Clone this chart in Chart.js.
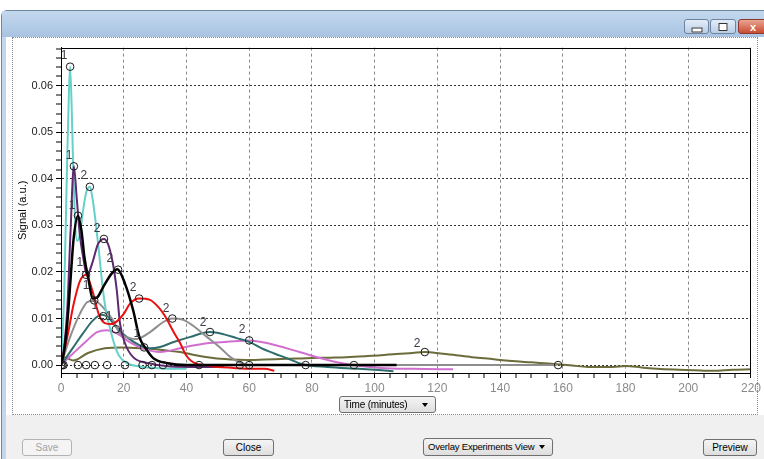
<!DOCTYPE html>
<html>
<head>
<meta charset="utf-8">
<script src="https://cdn.jsdelivr.net/npm/chart.js@4.4.1/dist/chart.umd.min.js"></script>
<style>
body { margin:0; width:764px; height:459px; background:#fff; position:relative; overflow:hidden; font-family:"Liberation Sans", Arial, sans-serif; }
.win { position:absolute; left:1px; top:10px; width:790px; height:470px; background:#c2d6ec; border:1px solid #6f86a3; border-radius:6px 0 0 0; box-sizing:border-box; }
.title { position:absolute; left:0; top:0; right:0; height:26px; background:linear-gradient(#c4d8ee, #a8c3e1); }
.client { position:absolute; left:4px; top:26px; width:780px; height:440px; background:#f0f0f0; }
.panel { position:absolute; left:0; top:0; width:760px; height:378px; background:#fff; }
.dots { position:absolute; left:6px; top:0; width:746px; height:378px; border:1px dotted #8c8c8c; box-sizing:border-box; }
.tb { position:absolute; top:8px; height:15px; border:1px solid #6d83a0; border-radius:3px; box-sizing:border-box; background:linear-gradient(#e4edf8, #b9cee6); }
.tb.close { background:linear-gradient(#e9a593, #c94b33); border-color:#8c3a2c; }
.tb span { position:absolute; left:50%; top:50%; transform:translate(-50%,-50%); }
.btn { position:absolute; top:439px; height:17px; border:1px solid #707070; border-radius:3px; box-sizing:border-box; background:linear-gradient(#f4f4f4, #dedede); font-size:10px; color:#000; text-align:center; line-height:15px; white-space:nowrap; }
.btn.dis { color:#a3a3a3; border-color:#b3b3b3; background:#f4f4f4; }
.combo { text-align:left; padding-left:4px; letter-spacing:-0.2px; }
.combo b { position:absolute; right:7px; top:6px; width:0; height:0; border-left:3px solid transparent; border-right:3px solid transparent; border-top:4px solid #000; }
canvas { position:absolute; left:12px; top:38px; }
</style>
</head>
<body>
<div class="win">
  <div class="title"></div>
  <div class="tb" style="left:682px;width:25px"><span style="width:9px;height:3px;border:1px solid #333;background:#fff;margin-top:3px"></span></div>
  <div class="tb" style="left:708px;width:26px"><span style="width:7px;height:6px;border:1px solid #333;background:#fff"></span></div>
  <div class="tb close" style="left:736px;width:30px"><span style="color:#fff;font-weight:bold;font-size:11px">x</span></div>
  <div class="client">
    <div class="panel"><div class="dots"></div></div>
  </div>
</div>
<canvas id="c" width="752" height="374"></canvas>
<div class="btn combo" style="left:339px;top:396px;width:97px;height:17px">Time (minutes)<b></b></div>
<div class="btn dis" style="left:22px;width:50px">Save</div>
<div class="btn" style="left:223px;width:51px">Close</div>
<div class="btn combo" style="left:423px;top:438px;width:130px;height:18px;font-size:9.5px">Overlay Experiments View<b></b></div>
<div class="btn" style="left:703px;width:54px">Preview</div>
<script>
'use strict'

// axes
const xMajor = [0, 20, 40, 60, 80, 100, 120, 140, 160, 180, 200, 220];
const yMajor = [0, 0.01, 0.02, 0.03, 0.04, 0.05, 0.06];
const xMinorStep = 5;
const yMinorStep = 0.002;

// series (time in minutes, signal)
const turqT = [0, 1, 2, 2.5, 2.9, 3.5, 4, 5.1, 6, 7, 8, 9.2, 10, 11, 12, 13.4, 14.5, 15.6, 17, 18.5, 21, 25, 30, 35, 40];
const turqV = [0, 0.015, 0.045, 0.058, 0.0641, 0.053, 0.04, 0.0267, 0.028, 0.033, 0.037, 0.0383, 0.036, 0.031, 0.025, 0.016, 0.011, 0.008, 0.0045, 0.002, 0.0004, -0.0003, -0.0006, -0.0008, -0.0008];

const purpT = [0, 1, 2, 3, 4.1, 5, 6, 7.1, 8.3, 9, 10.2, 11.8, 13.7, 15, 16.2, 17, 17.8, 18.8, 20.4, 23, 28, 35, 45, 52];
const purpV = [0, 0.004, 0.012, 0.028, 0.0427, 0.036, 0.028, 0.023, 0.0192, 0.02, 0.0224, 0.026, 0.0271, 0.026, 0.023, 0.02, 0.016, 0.009, 0.0047, 0.0017, 0.0004, -0.0003, -0.0004, -0.0004];

const blackT = [0, 1, 2, 3, 4, 5.4, 6.5, 7.5, 8.6, 10.2, 11.5, 13.4, 16.2, 18, 20.4, 23, 25, 26.8, 29.4, 34, 40, 60, 80, 107];
const blackV = [0, 0.003, 0.009, 0.018, 0.027, 0.0321, 0.029, 0.023, 0.019, 0.0143, 0.0145, 0.0167, 0.0197, 0.0206, 0.0175, 0.0118, 0.006, 0.0038, 0.0015, 0.0004, 0, 0, 0, 0];

const redT = [0, 2, 4, 6, 8, 10, 12, 14, 16, 18, 20, 22, 24.9, 28.4, 31, 33, 36, 38, 40, 43, 46, 50, 55, 60, 65, 68];
const redV = [0, 0.006, 0.013, 0.018, 0.0194, 0.016, 0.011, 0.009, 0.0088, 0.0095, 0.011, 0.0132, 0.0143, 0.014, 0.0125, 0.0107, 0.007, 0.0047, 0.002, 0.0003, 0, -0.0004, -0.0006, -0.0008, -0.0008, -0.0012];

const grayT = [0, 2.9, 6, 8.3, 10.6, 13.4, 16.6, 18.8, 22, 24, 28.4, 32.5, 35.5, 39, 42, 46.6, 50.7, 54, 57, 60, 80, 100, 120, 140, 158];
const grayV = [0, 0.006, 0.011, 0.0135, 0.0139, 0.0124, 0.0096, 0.0068, 0.0058, 0.0056, 0.0071, 0.0092, 0.01, 0.0097, 0.0085, 0.006, 0.0038, 0.0017, 0.0006, 0, 0, 0, 0, 0, 0];

const tealT = [0, 3.9, 7, 10.2, 13, 15, 17.8, 21, 25, 28.4, 31.6, 35.7, 41, 47.5, 52, 56, 60, 64, 68, 72, 77, 85, 95, 106];
const tealV = [0, 0.0038, 0.0068, 0.0096, 0.0108, 0.0103, 0.008, 0.006, 0.0043, 0.0036, 0.0039, 0.0049, 0.006, 0.0071, 0.0066, 0.0058, 0.005, 0.0036, 0.0025, 0.0015, 0.0002, -0.0004, -0.0008, -0.0013];

const pinkT = [0, 4, 8.3, 11.5, 14.6, 17.8, 22, 26, 31.6, 39, 46.6, 53, 60, 66, 76, 85, 93, 102, 112, 125];
const pinkV = [0, 0.0026, 0.0053, 0.0071, 0.0075, 0.0068, 0.0049, 0.0036, 0.0028, 0.0038, 0.0047, 0.005, 0.0053, 0.0047, 0.0028, 0.0011, 0, -0.0006, -0.0008, -0.0009];

const oliveT = [0, 1, 4, 8.6, 14, 19.5, 26, 33, 38, 43, 48.5, 54, 59, 65, 70, 75, 80, 86, 91, 97, 102, 107, 112, 116, 121, 125, 131, 136, 140, 145, 150, 154, 158, 163, 168, 172, 176, 180, 185, 190, 197, 202, 208, 214, 220];
const oliveV = [0, 0.0017, 0.001, 0.0026, 0.0036, 0.0038, 0.0036, 0.0032, 0.0028, 0.0021, 0.0015, 0.0012, 0.0011, 0.0012, 0.0013, 0.0014, 0.0015, 0.0016, 0.0017, 0.0019, 0.0021, 0.0024, 0.0026, 0.0028, 0.0025, 0.0022, 0.0017, 0.0014, 0.0011, 0.0008, 0.0006, 0.0004, 0.0002, -0.0001, -0.0004, -0.0004, -0.0004, -0.0002, -0.0005, -0.0008, -0.001, -0.0011, -0.0012, -0.001, -0.0009];

// peak / boundary markers
const markT = [2.9, 9.2, 4.1, 13.7, 5.4, 18.2, 8, 24.9, 10.6, 35.5, 13.5, 47.5, 17.5, 60, 26.5, 116,
  0, 0.4, 0.8, 5.4, 8, 10.8, 14.7, 20.4, 26, 29, 32.5, 44, 57, 60, 78, 93.4, 158.5];
const markV = [0.0641, 0.0383, 0.0427, 0.0271, 0.0321, 0.0205, 0.0194, 0.0143, 0.0139, 0.01, 0.0105, 0.0071, 0.0077, 0.0053, 0.0038, 0.0028,
  0, 0, 0, 0, 0, 0, 0, 0, 0, 0, 0, 0, 0, 0, 0, 0, 0];

// peak numbers
const labelT = [1, 2.6, 7.3, 3.5, 11.5, 6, 15.6, 8, 23, 10.8, 15.3, 33.5, 24.2, 45.3, 57.7, 113.5];
const labelV = [0.0664, 0.0449, 0.0406, 0.0342, 0.0293, 0.022, 0.0229, 0.0171, 0.0167, 0.0128, 0.0103, 0.0122, 0.0068, 0.0092, 0.0075, 0.0047];
const labelText = ['1', '1', '2', '1', '2', '1', '2', '1', '2', '1', '1', '2', '1', '2', '2', '2'];

function pts(t, v) {
	return t.map(function(x, i) { return { x: x, y: v[i] }; });
}

function series(t, v, color, width) {
	return {
		data: pts(t, v),
		borderColor: color,
		borderWidth: width || 2,
		pointRadius: 0,
		cubicInterpolationMode: 'monotone',
		fill: false
	};
}

const xAll = [];
for (let x = 0; x <= 220; x += xMinorStep) xAll.push(x);
const yAll = [];
for (let i = 0; i * yMinorStep <= 0.0681; i++) yAll.push(+(i * yMinorStep).toFixed(3));

function isYMajor(v) {
	return yMajor.some(function(m) { return Math.abs(m - v) < 1e-9; });
}

const family = '"Liberation Sans", Arial, sans-serif';

// frame round the plot
const frame = {
	id: 'frame',
	afterDraw: function(chart) {
		const a = chart.chartArea;
		const c = chart.ctx;
		c.save();
		c.strokeStyle = '#000';
		c.lineWidth = 1;
		c.strokeRect(Math.round(a.left) + 0.5, Math.round(a.top) + 0.5, Math.round(a.right - a.left) - 1, Math.round(a.bottom - a.top));
		c.restore();
	}
};

const peakLabels = {
	id: 'peakLabels',
	afterDatasetsDraw: function(chart) {
		const c = chart.ctx;
		const xs = chart.scales.x, ys = chart.scales.y;
		c.save();
		c.font = '12px ' + family;
		c.fillStyle = '#3a3a48';
		c.textAlign = 'center';
		c.textBaseline = 'middle';
		labelT.forEach(function(t, i) {
			c.fillText(labelText[i], xs.getPixelForValue(t), ys.getPixelForValue(labelV[i]));
		});
		c.restore();
	}
};

new Chart(document.getElementById('c'), {
	type: 'line',
	data: {
		datasets: [
			{
				data: pts(markT, markV),
				showLine: false,
				pointRadius: 3.8,
				pointBorderWidth: 1,
				pointBorderColor: '#1a1a1a',
				pointBackgroundColor: 'rgba(0,0,0,0)'
			},
			series(blackT, blackV, '#000000', 2.5),
			series(redT, redV, '#e81010'),
			series(purpT, purpV, '#5e2a6e'),
			series(turqT, turqV, '#66d1c9'),
			series(grayT, grayV, '#8e8e8e'),
			series(tealT, tealV, '#2f6c6c'),
			series(pinkT, pinkV, '#d06fd0'),
			series(oliveT, oliveV, '#6c6b3a')
		]
	},
	options: {
		responsive: false,
		animation: false,
		layout: { padding: { top: 8, right: 12, left: 0, bottom: 0 } },
		plugins: { legend: { display: false }, tooltip: { enabled: false } },
		scales: {
			x: {
				type: 'linear',
				min: 0,
				max: 220,
				afterBuildTicks: function(s) { s.ticks = xAll.map(function(v) { return { value: v }; }); },
				afterFit: function(s) { s.height = 39; },
				ticks: {
					autoSkip: false,
					maxRotation: 0,
					padding: 3,
					color: '#8a8a8a',
					font: { size: 12, family: family },
					callback: function(v) { return xMajor.indexOf(v) >= 0 ? String(v) : ''; }
				},
				grid: {
					color: '#8a8a8a',
					lineWidth: function(ctx) { return ctx.tick && xMajor.indexOf(ctx.tick.value) >= 0 ? 1 : 0; },
					tickColor: '#000',
					tickWidth: 1,
					tickLength: 5
				},
				border: { display: true, color: '#000', width: 1, dash: [3, 3] }
			},
			y: {
				min: -0.0017,
				max: 0.0682,
				afterBuildTicks: function(s) { s.ticks = yAll.map(function(v) { return { value: v }; }); },
				afterFit: function(s) { s.width = 49; },
				ticks: {
					autoSkip: false,
					padding: 3,
					color: '#222',
					font: { size: 11, family: family },
					callback: function(v) { return isYMajor(v) ? v.toFixed(2) : ''; }
				},
				grid: {
					color: '#333',
					lineWidth: function(ctx) { return ctx.tick && isYMajor(ctx.tick.value) ? 1 : 0; },
					tickColor: '#000',
					tickWidth: 1,
					tickLength: 5
				},
				border: { display: true, color: '#000', width: 1, dash: [2, 2] },
				title: {
					display: true,
					text: 'Signal (a.u.)',
					color: '#000',
					font: { size: 11, family: family },
					padding: { top: 4, bottom: 0 }
				}
			}
		}
	},
	plugins: [frame, peakLabels]
});
</script>
</body>
</html>
